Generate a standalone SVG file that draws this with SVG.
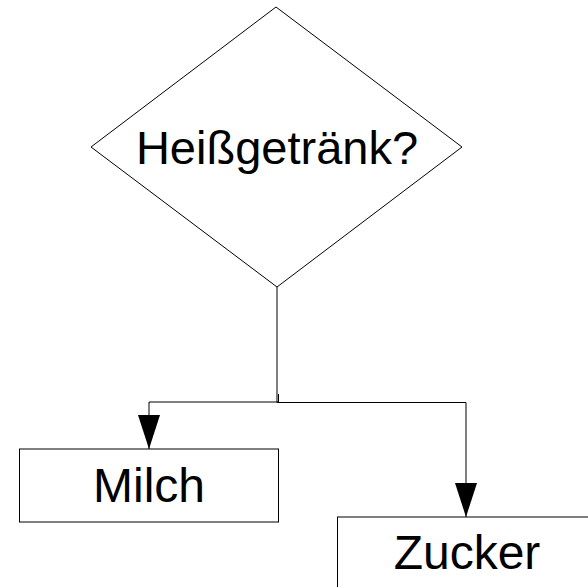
<svg xmlns="http://www.w3.org/2000/svg" width="588" height="587" viewBox="0 0 588 587">
<style>
.shape{fill:#ffffff;stroke:#000000;stroke-width:1}
.conn{fill:none;stroke:#000000;stroke-width:1}
.lbl{font-family:"Liberation Sans",Arial,sans-serif;fill:#000000;text-anchor:middle}
</style>
<defs>
<marker id="arrow" viewBox="0 0 34 22" markerWidth="34" markerHeight="22" refX="34" refY="11" markerUnits="userSpaceOnUse" orient="auto">
<path d="M0,0 L34,11 L0,22 Z" fill="#000000"/>
</marker>
</defs>
<rect width="588" height="587" fill="#ffffff"/>
<g id="decision">
<polygon class="shape" points="276,7 462,147 277,287 91,147"/>
<text class="lbl" x="277" y="163.5" font-size="47">Heißgetränk?</text>
</g>
<g id="milch">
<rect class="shape" x="19.5" y="449" width="259" height="73"/>
<text class="lbl" x="149" y="501.7" font-size="48">Milch</text>
</g>
<g id="zucker">
<rect class="shape" x="337.5" y="517" width="260" height="80"/>
<text class="lbl" x="467" y="569.3" font-size="48">Zucker</text>
</g>
<g id="connectors">
<path class="conn" d="M278.5,394 V402 H149 V449" marker-end="url(#arrow)"/>
<path class="conn" d="M277,287 V402.5 H466 V517" marker-end="url(#arrow)"/>
</g>
</svg>
